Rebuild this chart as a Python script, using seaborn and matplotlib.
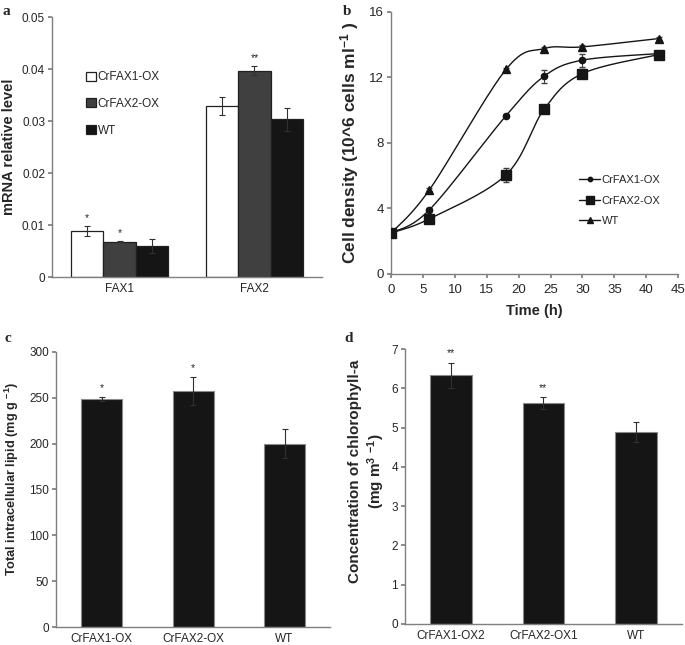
import numpy as np
import pandas as pd
import matplotlib
matplotlib.use("Agg")
import matplotlib.pyplot as plt
import seaborn as sns
from matplotlib.lines import Line2D
from matplotlib.patches import Patch

# ---- data ----
genes = ["FAX1", "FAX2"]
lines_a = ["CrFAX1-OX", "CrFAX2-OX", "WT"]
mrna_mean = {"CrFAX1-OX": [0.0088, 0.0329],
             "CrFAX2-OX": [0.0068, 0.0397],
             "WT": [0.0060, 0.0303]}
mrna_err = {"CrFAX1-OX": [0.0010, 0.0017],
            "CrFAX2-OX": [0.0001, 0.0008],
            "WT": [0.0013, 0.0022]}
mrna_stars = {"CrFAX1-OX": ["*", ""], "CrFAX2-OX": ["*", "**"], "WT": ["", ""]}

time_h = [0, 6, 18, 24, 30, 42]
density = {"CrFAX1-OX": [2.5, 3.92, 9.66, 12.08, 13.06, 13.46],
           "CrFAX2-OX": [2.5, 3.37, 6.05, 10.07, 12.24, 13.40],
           "WT": [2.5, 5.14, 12.49, 13.77, 13.87, 14.38]}
density_err = {"CrFAX1-OX": [0.0, 0.1, 0.1, 0.4, 0.4, 0.15],
               "CrFAX2-OX": [0.0, 0.1, 0.45, 0.1, 0.25, 0.15],
               "WT": [0.0, 0.1, 0.1, 0.1, 0.1, 0.1]}

lipid_labels = ["CrFAX1-OX", "CrFAX2-OX", "WT"]
lipid_mean = [249.0, 257.4, 200.0]
lipid_err = [2.0, 15.5, 15.5]
lipid_stars = ["*", "*", ""]

chl_labels = ["CrFAX1-OX2", "CrFAX2-OX1", "WT"]
chl_mean = [6.33, 5.62, 4.89]
chl_err = [0.31, 0.15, 0.26]
chl_stars = ["**", "**", ""]

sns.set_theme(style="ticks")
plt.rcParams["font.family"] = ["Liberation Sans", "DejaVu Sans"]
plt.rcParams["mathtext.fontset"] = "custom"
plt.rcParams["mathtext.rm"] = "Liberation Sans"
plt.rcParams["mathtext.bf"] = "Liberation Sans:bold"
plt.rcParams["mathtext.default"] = "bf"

spine_col = "#7f7f7f"

fig = plt.figure(figsize=(6.85, 6.45), dpi=100)
ax_a = fig.add_axes([0.076, 0.5705, 0.394, 0.4031])
ax_b = fig.add_axes([0.571, 0.5752, 0.419, 0.4062])
ax_c = fig.add_axes([0.082, 0.0279, 0.400, 0.4264])
ax_d = fig.add_axes([0.591, 0.0326, 0.4046, 0.4263])


def style_axes(ax, fs, xticks=False):
    sns.despine(ax=ax)
    for s in ["left", "bottom"]:
        ax.spines[s].set_color(spine_col)
        ax.spines[s].set_linewidth(1.0)
    ax.tick_params(axis="y", direction="out", length=3, color=spine_col,
                   labelsize=fs, pad=2)
    ax.tick_params(axis="x", direction="out", length=3 if xticks else 0,
                   color=spine_col, labelsize=fs, pad=4)


# ---- panel a ----
rows = []
for ln in lines_a:
    for g, m in zip(genes, mrna_mean[ln]):
        rows.append({"gene": g, "line": ln, "val": m})
df_a = pd.DataFrame(rows)
pal_a = {"CrFAX1-OX": "#ffffff", "CrFAX2-OX": "#404040", "WT": "#151515"}
sns.barplot(data=df_a, x="gene", y="val", hue="line", palette=pal_a,
            width=0.72, errorbar=None, edgecolor="#202020", linewidth=0.9,
            ax=ax_a, legend=False)
bars = ax_a.patches
k = 0
for ln in lines_a:
    for j in range(len(genes)):
        b = bars[k]
        k += 1
        xc = b.get_x() + b.get_width() / 2
        top = b.get_height()
        e = mrna_err[ln][j]
        ax_a.errorbar(xc, top, yerr=e, color="#303030", lw=0.8, capsize=2.2,
                      capthick=0.8)
        if mrna_stars[ln][j]:
            ax_a.text(xc, top + e + 0.0006, mrna_stars[ln][j], ha="center",
                      va="bottom", fontsize=7.5)
ax_a.set_ylim(0, 0.05)
ax_a.set_xlim(-0.5, 1.5)
ax_a.set_yticks([0, 0.01, 0.02, 0.03, 0.04, 0.05])
ax_a.set_yticklabels(["0", "0.01", "0.02", "0.03", "0.04", "0.05"])
ax_a.set_xlabel("")
ax_a.set_ylabel("mRNA relative level", fontsize=10.5, fontweight="bold",
                labelpad=4)
style_axes(ax_a, 8.5)
handles = [Patch(facecolor=pal_a[ln], edgecolor="#202020", linewidth=0.9,
                 label=ln) for ln in lines_a]
ax_a.legend(handles=handles, loc="upper left", bbox_to_anchor=(0.11, 0.81),
            frameon=False, fontsize=8.5, handlelength=0.8, handleheight=0.8,
            handletextpad=0.15, labelspacing=1.25, borderaxespad=0)


# ---- panel b ----
def smooth(xs, ys, n=30):
    # Excel-style smoothed line: Bezier segments with Catmull-Rom tangents
    P = np.column_stack([xs, ys]).astype(float)
    P = np.vstack([P[0], P, P[-1]])
    out = []
    t = np.linspace(0, 1, n)[:, None]
    for i in range(1, len(P) - 2):
        p0, p1, p2, p3 = P[i - 1], P[i], P[i + 1], P[i + 2]
        c1 = p1 + (p2 - p0) / 6
        c2 = p2 - (p3 - p1) / 6
        seg = ((1 - t) ** 3) * p1 + 3 * ((1 - t) ** 2) * t * c1 \
            + 3 * (1 - t) * t ** 2 * c2 + t ** 3 * p2
        out.append(seg)
    out = np.vstack(out)
    return out[:, 0], out[:, 1]


markers = {"CrFAX1-OX": ("o", 4.5), "CrFAX2-OX": ("s", 7.5), "WT": ("^", 6)}
for ln in ["WT", "CrFAX1-OX", "CrFAX2-OX"]:
    sx, sy = smooth(time_h, density[ln])
    ax_b.plot(sx, sy, color="#151515", lw=1.0, zorder=2)
    ax_b.errorbar(time_h, density[ln], yerr=density_err[ln], fmt="none",
                  ecolor="#404040", elinewidth=0.8, capsize=2, zorder=2)
    m, ms = markers[ln]
    ax_b.plot(time_h, density[ln], linestyle="none", marker=m, ms=ms,
              color="#151515", zorder=3)
ax_b.set_xlim(0, 45)
ax_b.set_ylim(0, 16)
ax_b.set_xticks(range(0, 46, 5))
ax_b.set_yticks([0, 4, 8, 12, 16])
ax_b.set_xlabel("Time (h)", fontsize=10.5, fontweight="bold", labelpad=6)
ax_b.set_ylabel(r"Cell density (10^6 cells ml$^{-1}$ )", fontsize=12.5,
                fontweight="bold", labelpad=6)
style_axes(ax_b, 9.5, xticks=True)
hb = [Line2D([], [], color="#151515", lw=1.0, marker=markers[ln][0],
             ms=markers[ln][1] * 0.7, label=ln) for ln in lines_a]
ax_b.legend(handles=hb, loc="upper left", bbox_to_anchor=(0.64, 0.395),
            frameon=False, fontsize=8, handlelength=1.9, handletextpad=0.1,
            labelspacing=0.95, borderaxespad=0)


# ---- panels c and d ----
def simple_bars(ax, labels, means, errs, stars, ylim, yticks, ylabel, lfs, off):
    df = pd.DataFrame({"line": labels, "val": means})
    sns.barplot(data=df, x="line", y="val", color="#151515", width=0.45,
                errorbar=None, edgecolor="#8a8a8a", linewidth=0.8, ax=ax)
    for b, e, s in zip(ax.patches, errs, stars):
        xc = b.get_x() + b.get_width() / 2
        top = b.get_height()
        ax.errorbar(xc, top, yerr=e, color="#303030", lw=0.8, capsize=2.2,
                    capthick=0.8)
        if s:
            ax.text(xc, top + e + off, s, ha="center", va="bottom",
                    fontsize=7.5)
    ax.set_xlim(-0.5, len(labels) - 0.5)
    ax.set_ylim(*ylim)
    ax.set_yticks(yticks)
    ax.set_xlabel("")
    ax.set_ylabel(ylabel, fontsize=lfs, fontweight="bold")
    style_axes(ax, 8.5)


simple_bars(ax_c, lipid_labels, lipid_mean, lipid_err, lipid_stars, (0, 300),
            [0, 50, 100, 150, 200, 250, 300],
            r"Total intracellular lipid (mg g $^{-1}$)", 9.2, 4)
ax_c.yaxis.set_label_coords(-0.129, 0.54)
simple_bars(ax_d, chl_labels, chl_mean, chl_err, chl_stars, (0, 7),
            [0, 1, 2, 3, 4, 5, 6, 7],
            "Concentration of chlorophyll-a\n" + r"(mg m$^{3}$ $^{-1}$)",
            11, 0.12)
ax_d.yaxis.set_label_coords(-0.066, 0.555)

# panel letters
for lab, (x, y) in zip("abcd", [(0.003, 0.992), (0.500, 0.992),
                                 (0.006, 0.485), (0.503, 0.485)]):
    fig.text(x, y, lab, fontsize=11, fontweight="bold", va="top",
             family=["Liberation Serif", "DejaVu Serif"])

fig.savefig("out.png", dpi=100)
